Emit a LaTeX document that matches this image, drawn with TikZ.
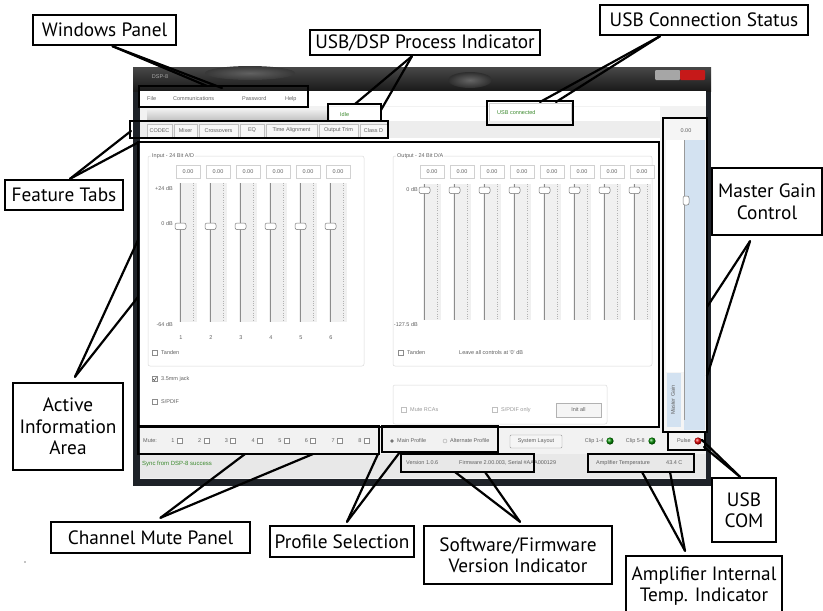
\documentclass[tikz,border=0pt]{standalone}
\usepackage{fontspec}
\setmainfont{PT Sans}
\newfontfamily\uifont{Liberation Sans}
\definecolor{frame}{HTML}{1E2228}
\definecolor{okgreen}{HTML}{3C8A2E}
\definecolor{mgblue}{HTML}{D3E2F1}
\begin{document}
\begin{tikzpicture}[x=1pt,y=-1pt,
  lbl/.style={draw=black,line width=2.4pt,fill=white,align=center,inner sep=0pt,font=\fontsize{19.3}{21.5}\selectfont},
  con/.style={line width=2.2pt,line cap=round},
  hl/.style={draw=black,line width=2.2pt},
  ui/.style={font=\uifont\fontsize{5.5}{6}\selectfont,text=black!62,inner sep=0pt},
  uil/.style={ui,anchor=west},
  uir/.style={ui,anchor=east},
  cbox/.style={draw=black!45,fill=white,line width=0.4pt},
  vbox/.style={draw=black!18,fill=white,line width=0.4pt},
]
\useasboundingbox (0,0) rectangle (823,611);
% ---------- window ----------
\fill[frame] (133,67) rectangle (711,486);
\shade[top color=black!72,bottom color=black!90] (133,67) rectangle (711,91);
\shade[inner color=black!62,outer color=black!78] (250,73) ellipse (45 and 7);
\shade[inner color=black!60,outer color=black!82] (470,80) ellipse (22 and 8);
\fill[black!35,rounded corners=1] (655,70) rectangle (680,80);
\fill[red!75!black!90,rounded corners=1] (680,70) rectangle (705,80);
\node[ui,text=black!35] at (160,77) {DSP-8};
\fill[black!5] (140,91) rectangle (706,479);
\fill[white] (140,91) rectangle (706,106);
\node[uil] at (147,99) {File};
\node[uil] at (173,99) {Communications};
\node[uil] at (242,99) {Password};
\node[uil] at (285,99) {Help};
% progress row
\shade[top color=black!8,bottom color=black!22] (147,110) rectangle (329,119);
\fill[white] (330,107) rectangle (660,121);
\node[uil,text=okgreen] at (340,115) {Idle};
\draw[vbox] (489,103) rectangle (571,123);
\node[uil,text=okgreen] at (497,113) {USB connected};
% tabs
\fill[black!7] (140,121) rectangle (660,138);
\foreach \a/\b/\t in {147/172/CODEC,174/197/Mixer,199/238/Crossovers,240/264/EQ,266/317/Time Alignment,319/358/Output Trim,360/387/Class D}{
  \draw[black!25,fill=black!3,line width=0.4pt] (\a,124) rectangle (\b,137);
  \node[ui] at ({(\a+\b)/2},130.5) {\t};
}
% content panel
\fill[white] (140,138) rectangle (660,428);
% input group
\draw[black!15,rounded corners=2,line width=0.5pt] (148,156) rectangle (364,366);
\node[uil,fill=white,inner xsep=1pt] at (151,156) {Input - 24 Bit A/D};
\node[uir] at (173,189) {+24 dB};
\node[uir] at (173,224) {0 dB};
\node[uir] at (173,325) {-64 dB};
\foreach \i in {0,...,5}{
  \pgfmathsetmacro\cx{188+30*\i}
  \draw[vbox] (\cx-12,165) rectangle (\cx+12,178);
  \node[ui] at (\cx,171.5) {0.00};
  \fill[black!6] (\cx-9,183) rectangle (\cx+9,322);
  \draw[black!45,line width=0.5pt] (\cx-8,183) -- (\cx-8,322);
  \draw[black!30,line width=0.4pt,dotted] (\cx+5,183) -- (\cx+5,322);
  \draw[black!55,fill=white,rounded corners=2,line width=0.5pt] (\cx-13,223) rectangle (\cx-2,229.5);
  \pgfmathtruncatemacro\n{\i+1}
  \node[ui] at (\cx-7,338) {\n};
}
\draw[cbox] (152,350) rectangle (157,355);
\node[uil] at (161,352.5) {Tanden};
\draw[cbox] (152,376.5) rectangle (157,381.5);
\draw[black!70,line width=0.6pt] (153,379) -- (154.3,380.6) -- (156.4,377.4);
\node[uil] at (161,379) {3.5mm jack};
\draw[cbox] (152,399.5) rectangle (157,404.5);
\node[uil] at (161,402) {S/PDIF};
% output group
\draw[black!15,rounded corners=2,line width=0.5pt] (393,156) rectangle (652,366);
\node[uil,fill=white,inner xsep=1pt] at (396,156) {Output - 24 Bit D/A};
\node[uir] at (418,190) {0 dB};
\node[uir] at (418,325) {-127.5 dB};
\foreach \i in {0,...,7}{
  \pgfmathsetmacro\cx{432+30*\i}
  \draw[vbox] (\cx-12,165) rectangle (\cx+12,178);
  \node[ui] at (\cx,171.5) {0.00};
  \fill[black!6] (\cx-9,184) rectangle (\cx+9,320);
  \draw[black!45,line width=0.5pt] (\cx-8,184) -- (\cx-8,320);
  \draw[black!30,line width=0.4pt,dotted] (\cx+5,184) -- (\cx+5,320);
  \draw[black!55,fill=white,rounded corners=2,line width=0.5pt] (\cx-13,187) rectangle (\cx-2,193.5);
}
\draw[cbox] (398,350) rectangle (403,355);
\node[uil] at (407,352.5) {Tanden};
\node[uil] at (459,352.5) {Leave all controls at '0' dB};
\draw[black!15,rounded corners=2,line width=0.5pt] (393,385) rectangle (607,424);
\draw[cbox,draw=black!25] (401,407.5) rectangle (406,412.5);
\node[uil,text=black!40] at (410,410) {Mute RCAs};
\draw[cbox,draw=black!25] (492,407.5) rectangle (497,412.5);
\node[uil,text=black!40] at (501,410) {S/PDIF only};
\draw[black!30,fill=black!4,line width=0.4pt] (556,403) rectangle (601,417);
\node[ui] at (578.5,410) {Init all};
% bottom row 1
\node[uil] at (143,441) {Mute:};
\foreach \i in {1,...,8}{
  \pgfmathsetmacro\nx{173+26.7*(\i-1)}
  \node[ui] at (\nx,441) {\i};
  \draw[cbox] (\nx+4,438.5) rectangle (\nx+9,443.5);
}
\fill[black!55] (392,441) circle (1.8);
\node[uil] at (397,441) {Main Profile};
\draw[black!35,line width=0.4pt] (445,441) circle (2);
\node[uil] at (450,441) {Alternate Profile};
\draw[black!40,fill=black!4,line width=0.4pt,rounded corners=1] (510,435) rectangle (562,448);
\node[ui] at (536,441.5) {System Layout};
\node[uir] at (604,441) {Clip 1-4};
\shade[ball color=green!55!black] (610,441) circle (3.6);
\node[uir] at (645,441) {Clip 5-8};
\shade[ball color=green!55!black] (652,441) circle (3.6);
\node[uir] at (691,441) {Pulse};
\shade[ball color=red!90!black] (698,441) circle (3.6);
% status row
\fill[black!9] (140,454) rectangle (706,478);
\node[uil,text=okgreen,font=\uifont\fontsize{6}{7}\selectfont] at (142,464) {Sync from DSP-8 success};
\node[uil] at (406,463) {Version 1.0.6};
\node[uil] at (459,463) {Firmware 2.00.003, Serial \#AAA000129};
\node[uil] at (596,463) {Amplifier Temperature};
\node[uil] at (666,463) {43.4 C};
% master gain
\fill[black!4] (663,118) rectangle (707,432);
\fill[white] (666,140) rectangle (684,372);
\fill[mgblue] (684,140) rectangle (705,430);
\fill[mgblue] (667,373) rectangle (681,427);
\draw[black!40,line width=0.5pt] (684,140) -- (684,420);
\node[ui] at (686,131) {0.00};
\draw[black!55,fill=white,rounded corners=2,line width=0.5pt] (683,196) rectangle (689,205);
\node[ui,rotate=90] at (673,400) {Master Gain};
% ---------- highlight boxes ----------
\draw[hl] (139,86) rectangle (308,107);
\draw[hl] (328,121) |- (381,104) -- (381,121);
\draw[hl] (487,101) rectangle (573,125);
\draw[hl] (130,121) rectangle (388,138);
\draw[hl] (138,142) rectangle (659,427);
\draw[hl] (663,118) rectangle (707,432);
\draw[hl] (668,432) rectangle (705,450);
\draw[hl] (138,426) rectangle (379,454);
\draw[hl] (382,426) rectangle (498,452);
\draw[hl] (401,454) rectangle (534,472);
\draw[hl] (588,454) rectangle (694,472);
% ---------- callouts ----------
\node[lbl,minimum width=143,minimum height=30] (wp) at (104.5,30) {Windows Panel};
\node[lbl,minimum width=230,minimum height=25] (dsp) at (425,42.5) {USB/DSP Process Indicator};
\node[lbl,minimum width=208,minimum height=30] (usbc) at (704,20) {USB Connection Status};
\node[lbl,minimum width=118,minimum height=30] (ft) at (64,195) {Feature Tabs};
\node[lbl,minimum width=110,minimum height=67] (mg) at (767,201.5) {Master Gain\\Control};
\node[lbl,minimum width=110,minimum height=87] (aia) at (68,426.5) {Active\\Information\\Area};
\node[lbl,minimum width=199,minimum height=31] (cmp) at (150.5,537.5) {Channel Mute Panel};
\node[lbl,minimum width=144,minimum height=31] (ps) at (342,541.5) {Profile Selection};
\node[lbl,minimum width=188,minimum height=58] (sfv) at (518,555) {Software/Firmware\\Version Indicator};
\node[lbl,minimum width=156,minimum height=60] (ait) at (704,586) {Amplifier Internal\\Temp. Indicator};
\node[lbl,minimum width=64,minimum height=64] (usbcom) at (744,510) {USB\\COM};
\fill (25,562) circle (0.6);
% ---------- connector targets ----------
\coordinate (wpA) at (207,86);
\coordinate (wpB) at (222,88);
\coordinate (dspA) at (355,104);
\coordinate (dspB) at (381,110);
\coordinate (usbcA) at (540,102);
\coordinate (usbcB) at (556,102);
\coordinate (ftA) at (131,131);
\coordinate (ftB) at (139,142);
\coordinate (mgA) at (707,307);
\coordinate (mgB) at (707,376);
\coordinate (aiaA) at (138,240);
\coordinate (aiaB) at (138,297);
\coordinate (cmpA) at (245,454);
\coordinate (cmpB) at (313,454);
\coordinate (psA) at (378,454);
\coordinate (psB) at (400,452);
\coordinate (sfvA) at (455,472);
\coordinate (sfvB) at (485,472);
\coordinate (aitA) at (642,472);
\coordinate (aitB) at (670,472);
\coordinate (ucA) at (702,440);
\coordinate (ucB) at (704,447);
% ---------- connectors ----------
\draw[con] ([xshift=8]wp.south) -- (wpA);
\draw[con] ([xshift=8]wp.south) -- (wpB);
\draw[con] ([xshift=-13]dsp.south) -- (dspA);
\draw[con] ([xshift=-13]dsp.south) -- (dspB);
\draw[con] ([xshift=-44]usbc.south) -- (usbcA);
\draw[con] ([xshift=-44]usbc.south) -- (usbcB);
\draw[con] ([xshift=6]ft.north) -- (ftA);
\draw[con] ([xshift=6]ft.north) -- (ftB);
\draw[con] ([xshift=-17,yshift=-5]mg.south) -- (mgA);
\draw[con] ([xshift=-17,yshift=-5]mg.south) -- (mgB);
\draw[con] ([xshift=7,yshift=5]aia.north) -- (aiaA);
\draw[con] ([xshift=7,yshift=5]aia.north) -- (aiaB);
\draw[con] ([xshift=10,yshift=3]cmp.north) -- (cmpA);
\draw[con] ([xshift=10,yshift=3]cmp.north) -- (cmpB);
\draw[con] ([xshift=5,yshift=3]ps.north) -- (psA);
\draw[con] ([xshift=5,yshift=3]ps.north) -- (psB);
\draw[con] ([xshift=2,yshift=3]sfv.north) -- (sfvA);
\draw[con] ([xshift=2,yshift=3]sfv.north) -- (sfvB);
\draw[con] ([xshift=-19,yshift=4]ait.north) -- (aitA);
\draw[con] ([xshift=-19,yshift=4]ait.north) -- (aitB);
\draw[con] ([xshift=-4]usbcom.north) -- (ucA);
\draw[con] ([xshift=-4]usbcom.north) -- (ucB);
\end{tikzpicture}
\end{document}
